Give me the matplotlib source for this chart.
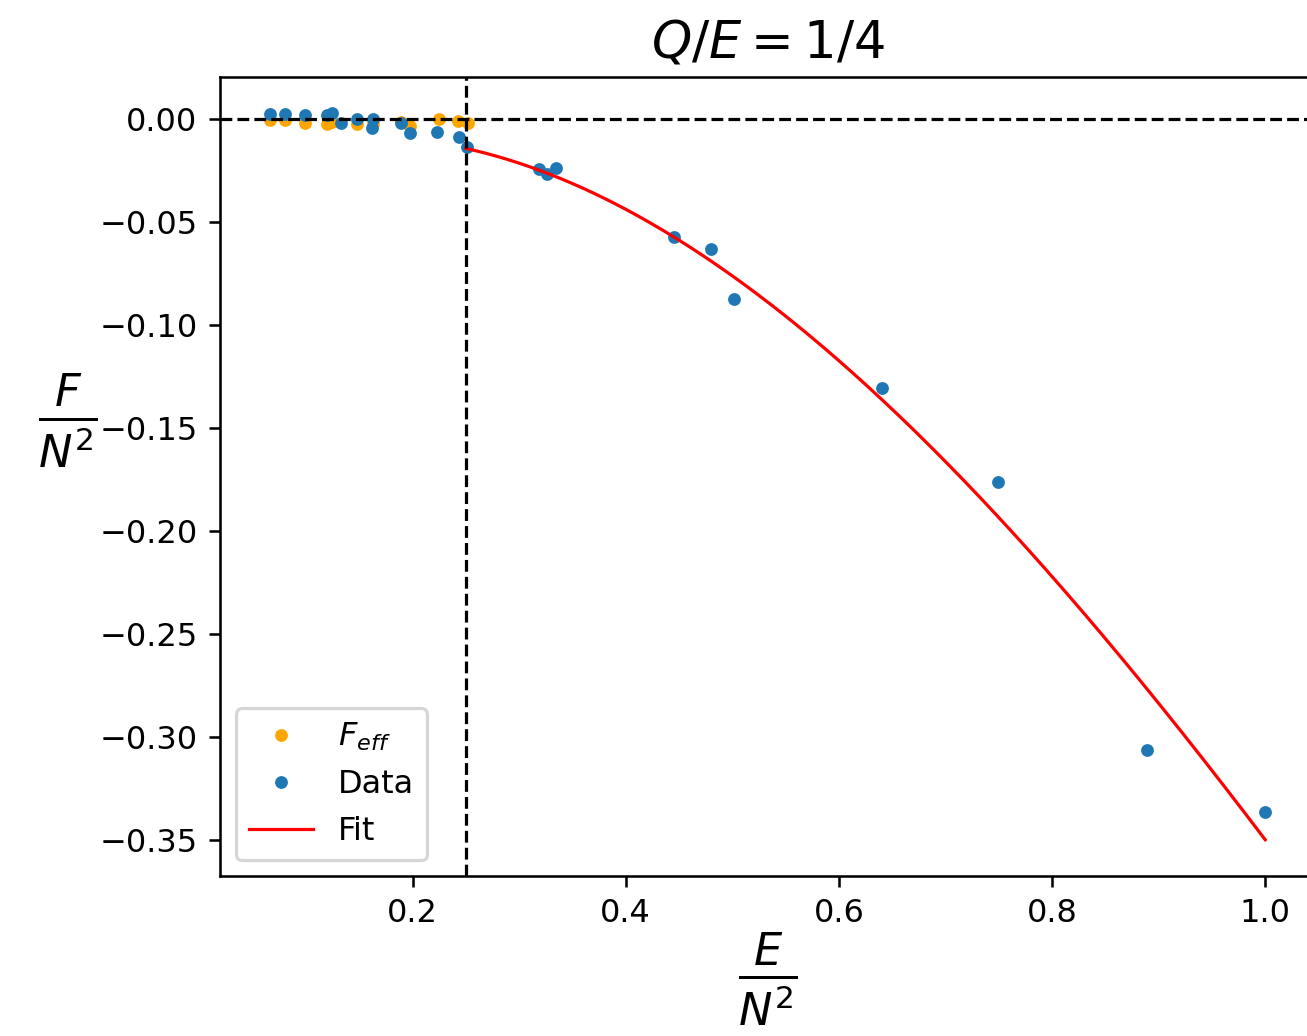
import numpy as np
import matplotlib
matplotlib.use("Agg")
import matplotlib.pyplot as plt

# Points from the simulation (E/N^2, F/N^2)
e_data = [0.066, 0.080, 0.099, 0.120, 0.124, 0.133, 0.148, 0.163, 0.162, 0.189,
          0.198, 0.223, 0.244, 0.251, 0.319, 0.326, 0.335, 0.445, 0.480, 0.502,
          0.640, 0.749, 0.889, 1.000]
f_data = [0.0020, 0.0020, 0.0018, 0.0015, 0.0025, -0.0020, 0.0000, 0.0000, -0.0047, -0.0020,
          -0.0070, -0.0066, -0.0090, -0.0136, -0.0244, -0.0268, -0.0241, -0.0575, -0.0632, -0.0874,
          -0.1309, -0.1764, -0.3063, -0.3364]

# Effective free energy below the transition
e_eff = [0.066, 0.080, 0.099, 0.120, 0.124, 0.148, 0.163, 0.189, 0.198, 0.225, 0.243, 0.252]
f_eff = [-0.0006, -0.0006, -0.0020, -0.0026, -0.0015, -0.0026, -0.0026, -0.0015, -0.0034,
         0.0000, -0.0013, -0.0020]

# Cubic fit in u = E/N^2 - E_C, valid for E/N^2 >= E_C
E_C = 0.25
FIT_COEFFS = [0.1736, -0.5735, -0.1148, -0.0145]

DPI = 230
fig = plt.figure(figsize=(1307 / DPI, 1036 / DPI), dpi=DPI)
ax = fig.add_axes([0.1683, 0.1544, 0.8378, 0.7712])

e_fit = np.linspace(E_C, 1.0, 300)
f_fit = np.polyval(FIT_COEFFS, e_fit - E_C)

ax.plot(e_eff, f_eff, '.', color='orange', label=r'$F_{eff}$')
ax.plot(e_data, f_data, '.', color='C0', label='Data')
ax.plot(e_fit, f_fit, color='red', lw=1, label='Fit')
ax.axhline(0, color='black', ls='--', lw=1)
ax.axvline(E_C, color='black', ls='--', lw=1)

ax.set_title(r'$Q/E = 1/4$', fontsize=16)
ax.set_xlabel(r'$\frac{E}{N^2}$', fontsize=20, labelpad=0.3)
ax.set_ylabel(r'$\frac{F}{N^2}$', fontsize=20, rotation=0)
ax.yaxis.set_label_coords(-0.139, 0.507)
ax.legend(loc='lower left')

fig.savefig('out.png', dpi=DPI)
